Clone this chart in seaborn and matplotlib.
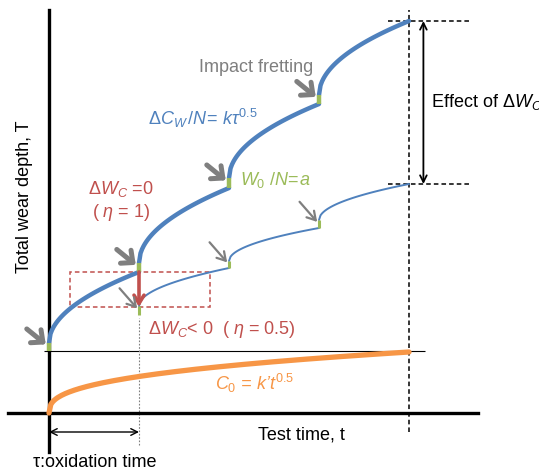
import numpy as np
import pandas as pd
import seaborn as sns
import matplotlib.pyplot as plt

# ---------------------------------------------------------
# values (time in units of tau, depth in a.u.)
# ---------------------------------------------------------
cycle_t = [0, 1, 2, 3, 4]                 # cycle boundaries (t / tau)
base_level = 6.2                          # thin horizontal reference line
thick_start = [7.0, 15.0, 23.5, 31.8]     # eta = 1, after impact jump W0/N
thick_end = [14.1, 22.5, 30.9, 39.2]
thin_low = [9.8, 14.5, 18.5]              # eta = 0.5, cycles 2..4
thin_start = [10.7, 15.2, 19.3]
thin_end = [14.5, 18.5, 22.9]
oxide_end = 6.1                           # C0 at t = 4 tau
oxide_exp = 0.37

BLUE, GREEN, RED, ORANGE, GREY = "#4F81BD", "#9BBB59", "#C0504D", "#F79646", "#7F7F7F"

sns.set_theme(style="white")
plt.rcParams["font.family"] = ["Liberation Sans", "Noto Sans CJK JP", "DejaVu Sans"]
plt.rcParams["mathtext.fontset"] = "custom"
plt.rcParams["mathtext.rm"] = "Liberation Sans"
plt.rcParams["mathtext.it"] = "Liberation Sans:italic"
plt.rcParams["mathtext.bf"] = "Liberation Sans:bold"


def sqrt_cycle(t0, d0, d1, n=60):
    s = np.linspace(0, 1, n)
    return t0 + s, d0 + (d1 - d0) * np.sqrt(s)


fig = plt.figure(figsize=(5.39, 4.73), dpi=100)
ax = fig.add_axes([0, 0, 1, 1])
ax.set_xlim(-49 / 90, 490 / 90)
ax.set_ylim(-6.0, 41.3)
ax.set_xticks([])
ax.set_yticks([])
for side in ["top", "right"]:
    ax.spines[side].set_visible(False)
for side in ["left", "bottom"]:
    ax.spines[side].set_position(("data", 0))
    ax.spines[side].set_color("black")
    ax.spines[side].set_linewidth(2.4)
ax.spines["left"].set_bounds(-3.9, 40.3)
ax.spines["bottom"].set_bounds(-0.46, 4.77)

# reference line + guide lines
ax.hlines(base_level, -0.06, 4.18, color="black", lw=0.8, zorder=1)
ax.vlines(cycle_t[-1], -1.9, 40.3, color="black", lw=1.1, ls=(0, (3, 2)), zorder=1)
for lvl in [thick_end[-1], thin_end[-1]]:
    ax.hlines(lvl, 3.77, 4.68, color="black", lw=1.1, ls=(0, (3, 2)), zorder=1)
ax.vlines(cycle_t[1], -3.2, thin_low[0] - 0.3, color=GREY, lw=0.8, ls=(0, (1.5, 1.5)), zorder=1)

# thick blue: eta = 1
for k in range(4):
    t, d = sqrt_cycle(cycle_t[k], thick_start[k], thick_end[k])
    sns.lineplot(x=t, y=d, ax=ax, color=BLUE, lw=3.2, estimator=None, zorder=3)
    prev = base_level if k == 0 else thick_end[k - 1]
    ax.vlines(cycle_t[k], prev, thick_start[k], color=GREEN, lw=3.2, zorder=4)

# thin blue: eta = 0.5
for k in range(3):
    t, d = sqrt_cycle(cycle_t[k + 1], thin_start[k], thin_end[k])
    sns.lineplot(x=t, y=d, ax=ax, color=BLUE, lw=1.4, estimator=None, zorder=3)
    ax.vlines(cycle_t[k + 1], thin_low[k], thin_start[k], color=GREEN, lw=2.2, zorder=4)

# oxide growth C0
t_ox = np.linspace(0, cycle_t[-1], 200)
df_ox = pd.DataFrame({"t": t_ox, "C0": oxide_end * (t_ox / cycle_t[-1]) ** oxide_exp})
sns.lineplot(data=df_ox, x="t", y="C0", ax=ax, color=ORANGE, lw=3.8, estimator=None, zorder=3)

# red dashed box and drop arrow
ax.add_patch(plt.Rectangle((0.233, 10.6), 1.557, 3.5, fill=False, ec=RED, lw=1.1,
                           ls=(0, (3, 2)), zorder=2))
ax.annotate("", xy=(cycle_t[1], thin_start[0] - 0.1), xytext=(cycle_t[1], thick_end[0]),
            arrowprops=dict(arrowstyle="->,head_length=0.5,head_width=0.3", color=RED,
                            lw=2.6, shrinkA=0, shrinkB=0), zorder=5)

# impact arrows (thick for eta=1, thin for eta=0.5)
for k in range(4):
    prev = base_level if k == 0 else thick_end[k - 1]
    ax.annotate("", xy=(cycle_t[k], (prev + thick_start[k]) / 2), xytext=(-16, 13),
                textcoords="offset points",
                arrowprops=dict(arrowstyle="->,head_length=0.55,head_width=0.5", color=GREY,
                                lw=3.6, shrinkA=0, shrinkB=3), zorder=5)
for k in range(3):
    ax.annotate("", xy=(cycle_t[k + 1], (thin_low[k] + thin_start[k]) / 2), xytext=(-14, 16),
                textcoords="offset points",
                arrowprops=dict(arrowstyle="->,head_length=0.5,head_width=0.3", color=GREY,
                                lw=1.6, shrinkA=0, shrinkB=2), zorder=5)

# double arrows
ax.annotate("", xy=(4.16, thin_end[-1]), xytext=(4.16, thick_end[-1]),
            arrowprops=dict(arrowstyle="<->", color="black", lw=1.3, shrinkA=0, shrinkB=0))
ax.annotate("", xy=(0, -1.9), xytext=(cycle_t[1], -1.9),
            arrowprops=dict(arrowstyle="<->", color="black", lw=1.0, shrinkA=0, shrinkB=0))

# labels
fs = 13
ax.text(1.667, 34.5, "Impact fretting", color=GREY, fontsize=fs, va="center")
ax.text(1.1, 29.5, r"$\Delta C_W\,/N\!=\,k\tau^{\mathit{0.5}}$", color=BLUE, fontsize=fs, va="center")
ax.text(2.12, 23.3, r"$W_{\mathit{0}}\ /N\!=\!a$", color=GREEN, fontsize=fs, va="center")
ax.text(0.80, 21.2, "$\\Delta W_C$ =0\n( $\\eta$ = 1)", color=RED, fontsize=fs,
        ha="center", va="center", linespacing=1.2)
ax.text(1.1, 8.3, r"$\Delta W_C$< 0  ( $\eta$ = 0.5)", color=RED, fontsize=fs, va="center")
ax.text(1.84, 3.0, r"$C_{\mathit{0}}$ = k’$t^{\mathit{0.5}}$", color=ORANGE, fontsize=fs,
        va="center", style="italic")
ax.text(4.24, 31.1, r"Effect of $\mathit{\Delta}W_C$", color="black", fontsize=fs, va="center")
ax.text(2.32, -2.2, "Test time, t", color="black", fontsize=fs, va="center")
ax.text(-0.18, -4.9, "τ:oxidation time", color="black", fontsize=fs, va="center")
ax.text(-0.27, 21.6, "Total wear depth, T", color="black", fontsize=fs, va="center",
        ha="center", rotation=90)

fig.savefig("out.png", dpi=100)
plt.close(fig)
